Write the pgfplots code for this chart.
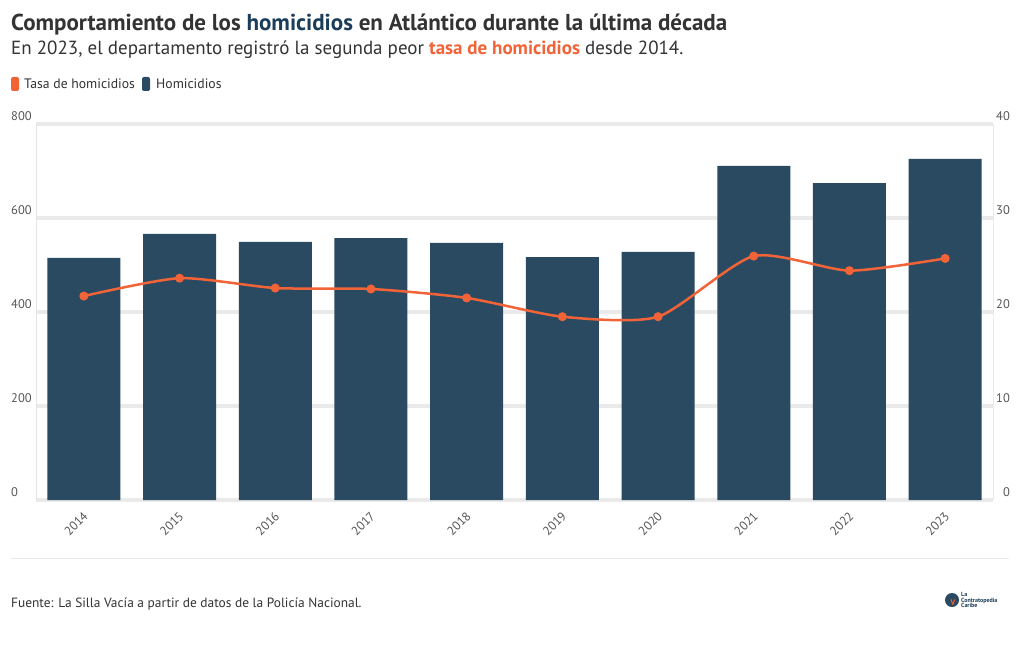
\documentclass[border=0pt]{standalone}
\usepackage{pgfplots}
\pgfplotsset{compat=1.18}
\usepackage{fontspec}
\setmainfont{PT Sans}
\definecolor{barc}{HTML}{2A4A62}
\definecolor{ratec}{HTML}{F26337}
\definecolor{titleblue}{HTML}{1B3D5A}
\definecolor{txt}{HTML}{333333}
\definecolor{tickc}{HTML}{555555}
\definecolor{gridc}{HTML}{EAEAEA}
\definecolor{axc}{HTML}{E2E6EA}
\pgfplotstableread{
x year hom rate
0 2014 515 21.7
1 2015 566 23.6
2 2016 549 22.55
3 2017 557 22.45
4 2018 547 21.5
5 2019 517 19.5
6 2020 528 19.5
7 2021 711 25.95
8 2022 674 24.4
9 2023 726 25.7
}\datatable
\begin{document}
\begin{tikzpicture}
\useasboundingbox (0pt,0pt) rectangle (1020pt,-650pt);
\fill[white] (0pt,0pt) rectangle (1020pt,-650pt);
\node[anchor=base west, inner sep=0, font=\bfseries\fontsize{23}{26}\selectfont, text=txt] at (11pt,-31pt) {Comportamiento de los \textcolor{titleblue}{homicidios} en Atlántico durante la última década};
\node[anchor=base west, inner sep=0, font=\fontsize{19}{22}\selectfont, text=txt] at (11pt,-55pt) {En 2023, el departamento registró la segunda peor \textcolor{ratec}{\bfseries tasa de homicidios} desde 2014.};
\fill[ratec, rounded corners=2pt] (11pt,-77pt) rectangle (19pt,-91pt);
\node[anchor=base west, inner sep=0, font=\fontsize{13.7}{15}\selectfont, text=txt] at (24pt,-89pt) {Tasa de homicidios};
\fill[barc, rounded corners=2pt] (142pt,-77pt) rectangle (150pt,-91pt);
\node[anchor=base west, inner sep=0, font=\fontsize{13.7}{15}\selectfont, text=txt] at (156pt,-89pt) {Homicidios};
\draw[gridc, line width=1pt] (11pt,-558pt) -- (1009pt,-558pt);
\node[anchor=base west, inner sep=0, font=\fontsize{13.4}{15}\selectfont, text=txt] at (11pt,-607pt) {Fuente: La Silla Vacía a partir de datos de la Policía Nacional.};
\fill[barc] (952pt,-600pt) circle (7pt);
\node[inner sep=0, font=\bfseries\fontsize{8}{8}\selectfont, text=ratec] at (953pt,-603pt) {V};
\node[anchor=west, inner sep=0, align=left, font=\fontsize{6}{5.5}\selectfont\bfseries, text=titleblue] at (961pt,-600pt) {La\\Contratopedia\\Caribe};
\begin{axis}[
  at={(36pt,-500pt)}, anchor=south west, scale only axis,
  width=957pt, height=376pt,
  xmin=-0.5, xmax=9.5, ymin=0, ymax=800,
  ytick={0,200,400,600,800},
  xtick={0,...,9},
  xticklabels={2014,2015,2016,2017,2018,2019,2020,2021,2022,2023},
  axis x line*=bottom, axis y line*=left,
  x axis line style={draw=none},
  y axis line style={draw=axc, line width=0.8pt, -},
  major tick length=0pt,
  ymajorgrids, major grid style={gridc, line width=4pt},
  tick label style={font=\fontsize{12.5}{14}\selectfont, text=tickc},
  /pgf/number format/assume math mode=true,
  yticklabel style={anchor=south west, inner sep=0, xshift=-25pt, yshift=3pt},
  xticklabel style={xshift=2pt, yshift=-14pt, rotate=45, anchor=east, inner sep=0},
  ybar, bar width=73pt,
  clip=false,
]
\addplot[fill=barc, draw=none] table[x=x, y=hom] {\datatable};
\end{axis}
\begin{axis}[
  at={(36pt,-500pt)}, anchor=south west, scale only axis,
  width=957pt, height=376pt,
  xmin=-0.5, xmax=9.5, ymin=0, ymax=40,
  ytick={0,10,20,30,40},
  axis x line=none, axis y line*=right,
  y axis line style={draw=gridc, line width=0.8pt, -},
  major tick length=0pt,
  tick label style={font=\fontsize{12.5}{14}\selectfont, text=tickc},
  /pgf/number format/assume math mode=true,
  yticklabel style={anchor=south east, inner sep=0, xshift=17pt, yshift=3pt},
  clip=false,
]
\addplot[ratec, line width=2.5pt, smooth, tension=0.4, mark=*, mark size=3.2pt, mark options={fill=ratec, draw=none}] table[x=x, y=rate] {\datatable};
\end{axis}
\end{tikzpicture}
\end{document}
